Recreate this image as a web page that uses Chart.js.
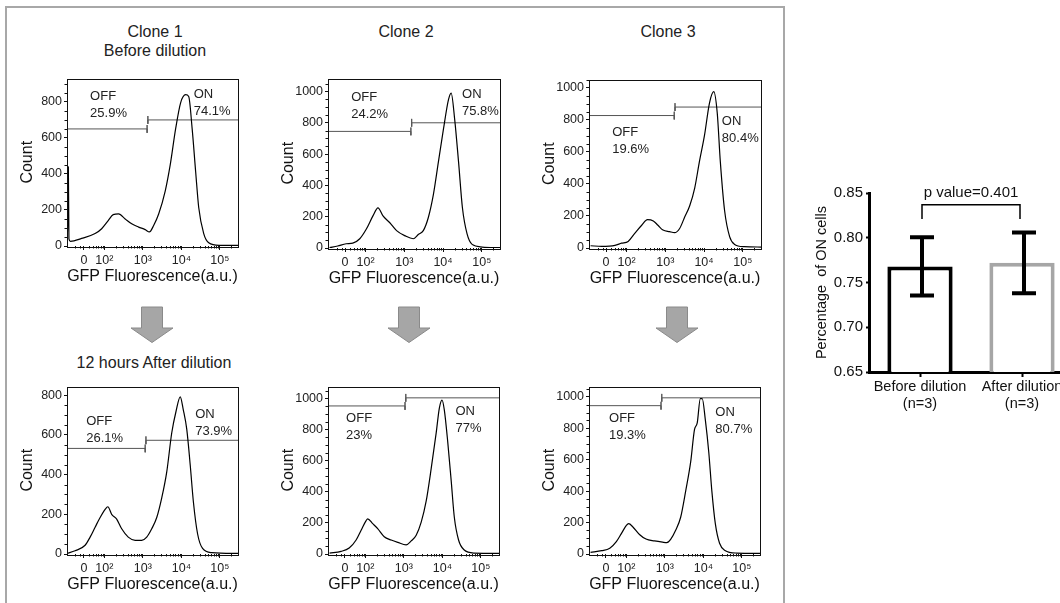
<!DOCTYPE html>
<html>
<head>
<meta charset="utf-8">
<script src="https://cdn.jsdelivr.net/npm/chart.js@4.4.0/dist/chart.umd.min.js"></script>
<style>
  body { margin: 0; width: 1060px; height: 603px; overflow: hidden; background: #fff; position: relative;
         font-family: "Liberation Sans", Arial, sans-serif; }
  .frame { position: absolute; left: 5px; top: 6px; width: 776px; height: 640px; border: 2px solid #a8a8a8; }
  .hdr { position: absolute; transform: translate(-50%, -50%); font-size: 16px; color: #222; white-space: nowrap; }
  .arw { position: absolute; }
  canvas { position: absolute; }
</style>
</head>
<body>
<div class="frame"></div>
<div class="hdr" style="left:155px;top:32px">Clone 1</div>
<div class="hdr" style="left:406px;top:32px">Clone 2</div>
<div class="hdr" style="left:668px;top:32px">Clone 3</div>
<div class="hdr" style="left:155px;top:51px">Before dilution</div>
<div class="hdr" style="left:154px;top:363px">12 hours After dilution</div>
<svg class="arw" style="left:130px;top:306px" width="44" height="38"><polygon points="11.5,1 32.5,1 32.5,22 43,22 22,36.5 1,22 11.5,22" fill="#a6a6a6" stroke="#8a8a8a"/></svg>
<svg class="arw" style="left:387px;top:306px" width="44" height="38"><polygon points="11.5,1 32.5,1 32.5,22 43,22 22,36.5 1,22 11.5,22" fill="#a6a6a6" stroke="#8a8a8a"/></svg>
<svg class="arw" style="left:655px;top:306px" width="44" height="38"><polygon points="11.5,1 32.5,1 32.5,22 43,22 22,36.5 1,22 11.5,22" fill="#a6a6a6" stroke="#8a8a8a"/></svg>

<script>
const FONT = '"Liberation Sans", Arial, sans-serif';
Chart.defaults.font.family = FONT;

// x axis is in display (biexponential) units: 10^k sits at k
const xTickPos = [1.47, 2, 3, 4, 5];
const xTickLabels = ['0', '10²', '10³', '10⁴', '10⁵'];

// histograms
const c1BeforeX = [1.03, 1.05, 1.065, 1.08, 1.12, 1.41, 1.76, 1.93, 2.10, 2.23, 2.37, 2.54, 2.71, 2.89, 3.06, 3.17, 3.28, 3.41, 3.58, 3.71, 3.85, 3.98, 4.11, 4.19, 4.28, 4.37, 4.45, 4.58, 4.71, 4.98, 5.47];
const c1BeforeCount = [20, 150, 440, 40, 26, 42, 69, 96, 141, 174, 178, 150, 123, 105, 91, 78, 114, 178, 305, 450, 650, 795, 840, 830, 650, 414, 214, 69, 18, 4, 4];

const c2BeforeX = [1.07, 1.28, 1.50, 1.67, 1.85, 2.02, 2.19, 2.32, 2.45, 2.62, 2.80, 3.01, 3.23, 3.36, 3.49, 3.62, 3.75, 3.88, 4.01, 4.14, 4.21, 4.30, 4.40, 4.50, 4.62, 4.75, 5.01, 5.47];
const c2BeforeCount = [2, 13, 27, 31, 59, 121, 205, 257, 205, 163, 111, 79, 59, 86, 111, 195, 341, 550, 759, 948, 990, 822, 550, 257, 90, 23, 6, 2];

const c3BeforeX = [1.07, 1.36, 1.70, 1.87, 2.04, 2.21, 2.39, 2.54, 2.69, 2.81, 2.94, 3.11, 3.24, 3.37, 3.50, 3.63, 3.76, 3.88, 4.01, 4.14, 4.25, 4.34, 4.42, 4.53, 4.66, 4.78, 5.04, 5.47];
const c3BeforeCount = [14, 10, 16, 30, 41, 91, 142, 177, 169, 142, 112, 102, 96, 122, 193, 264, 376, 539, 701, 905, 976, 844, 539, 234, 71, 24, 8, 6];

const c1AfterX = [1.03, 1.24, 1.50, 1.63, 1.76, 1.89, 2.02, 2.09, 2.19, 2.32, 2.45, 2.62, 2.80, 2.97, 3.10, 3.23, 3.36, 3.49, 3.62, 3.75, 3.86, 3.97, 4.05, 4.14, 4.23, 4.31, 4.42, 4.55, 4.79, 5.47];
const c1AfterCount = [3, 16, 44, 85, 135, 184, 225, 238, 200, 176, 127, 85, 69, 69, 85, 127, 184, 283, 414, 611, 718, 792, 726, 628, 447, 266, 102, 28, 7, 3];

const c2AfterX = [1.07, 1.37, 1.58, 1.76, 1.89, 2.02, 2.06, 2.19, 2.32, 2.49, 2.67, 2.84, 3.06, 3.19, 3.32, 3.45, 3.58, 3.71, 3.84, 3.92, 3.99, 4.05, 4.14, 4.23, 4.31, 4.42, 4.56, 4.83, 5.47];
const c2AfterCount = [6, 17, 38, 90, 153, 215, 226, 195, 163, 111, 90, 75, 59, 84, 121, 205, 341, 550, 780, 937, 990, 927, 718, 467, 236, 90, 27, 6, 4];

const c3AfterX = [1.07, 1.36, 1.57, 1.74, 1.87, 2.00, 2.06, 2.17, 2.34, 2.51, 2.73, 2.94, 3.05, 3.15, 3.28, 3.41, 3.54, 3.67, 3.77, 3.84, 3.92, 3.97, 4.05, 4.14, 4.22, 4.31, 4.42, 4.56, 4.86, 5.47];
const c3AfterCount = [10, 21, 37, 79, 130, 182, 193, 172, 124, 95, 83, 75, 72, 93, 151, 234, 400, 586, 793, 834, 989, 989, 855, 648, 400, 193, 68, 23, 6, 4];

// gates: split point (display units) and the drawn levels (counts)
const gateSplit = [3.11, 3.17, 3.23, 3.06, 3.03, 2.90];
const gateOffLevel = [650, 745, 827, 532, 952, 944];
const gateOnLevel = [700, 800, 880, 573, 1004, 994];
const offPercent = ['25.9%', '24.2%', '19.6%', '26.1%', '23%', '19.3%'];
const onPercent = ['74.1%', '75.8%', '80.4%', '73.9%', '77%', '80.7%'];

// summary bar chart
const barLabels = [['Before dilution', '(n=3)'], ['After dilution', '(n=3)']];
const onMean = [0.768, 0.772];
const onSd = [0.0325, 0.034];
const pValueText = 'p value=0.401';

const X_MIN = 1.03, X_MAX = 5.47;
const Y_W = 62, X_H = 42, PAD_T = 6, PAD_R = 10;

// plot boxes [left, top, right, bottom] and where the OFF/ON labels sit
const panels = [
  { x: c1BeforeX, y: c1BeforeCount, box: [67, 75, 238, 246], yMax: 930, yTop: 800, offAt: [1.63, 830], onAt: [4.32, 839] },
  { x: c2BeforeX, y: c2BeforeCount, box: [328, 75, 500, 248], yMax: 1083, yTop: 1000, offAt: [1.63, 962], onAt: [4.49, 979] },
  { x: c3BeforeX, y: c3BeforeCount, box: [589, 76, 761, 248], yMax: 1052, yTop: 1000, offAt: [1.63, 721], onAt: [4.46, 793] },
  { x: c1AfterX, y: c1AfterCount, box: [67, 383, 238, 554], yMax: 844, yTop: 800, offAt: [1.53, 669], onAt: [4.36, 705] },
  { x: c2AfterX, y: c2AfterCount, box: [328, 383, 499, 554], yMax: 1077, yTop: 1000, offAt: [1.50, 874], onAt: [4.34, 917] },
  { x: c3AfterX, y: c3AfterCount, box: [589, 383, 760, 554], yMax: 1066, yTop: 1000, offAt: [1.55, 865], onAt: [4.31, 902] }
];

// minor tick spots on the x axis
const xMinor = [1.25, 1.38];
for (let k = 4; k <= 9; k++) xMinor.push(1 + Math.log10(k));
for (let d = 2; d <= 4; d++) for (let k = 2; k <= 9; k++) xMinor.push(d + Math.log10(k));
xMinor.push(5 + Math.log10(2));

const histDeco = {
  id: 'histDeco',
  afterDraw(chart, args, o) {
    const { ctx, chartArea: a, scales: { x, y } } = chart;
    ctx.save();
    ctx.strokeStyle = '#111';
    ctx.lineWidth = 1;
    ctx.strokeRect(Math.round(a.left) + 0.5, Math.round(a.top) + 0.5, Math.round(a.right - a.left), Math.round(a.bottom - a.top));
    ctx.beginPath();
    xMinor.forEach(v => {
      const px = Math.round(x.getPixelForValue(v)) + 0.5;
      ctx.moveTo(px, a.bottom); ctx.lineTo(px, a.bottom + 2.5);
    });
    for (let v = 50; v < y.max; v += 50) {
      if (v % 200 === 0) continue;
      const py = Math.round(y.getPixelForValue(v)) + 0.5;
      ctx.moveTo(a.left, py); ctx.lineTo(a.left - 2.5, py);
    }
    ctx.stroke();

    ctx.font = '13px ' + FONT;
    ctx.fillStyle = '#222';
    ctx.textAlign = 'left';
    ctx.textBaseline = 'middle';
    const p = o.panel, i = o.index;
    let px = x.getPixelForValue(p.offAt[0]), py = y.getPixelForValue(p.offAt[1]);
    ctx.fillText('OFF', px, py);
    ctx.fillText(offPercent[i], px, py + 17);
    px = x.getPixelForValue(p.onAt[0]); py = y.getPixelForValue(p.onAt[1]);
    ctx.fillText('ON', px, py);
    ctx.fillText(onPercent[i], px, py + 17);
    ctx.restore();
  }
};

panels.forEach((p, i) => {
  const [l, t, r, b] = p.box;
  const W = r - l + Y_W + PAD_R, H = b - t + PAD_T + X_H;
  const cv = document.createElement('canvas');
  cv.width = W; cv.height = H;
  cv.style.left = (l - Y_W) + 'px';
  cv.style.top = (t - PAD_T) + 'px';
  document.body.appendChild(cv);

  const d = 4 * p.yMax / (b - t);   // half height of a gate end bar, in counts
  const s = gateSplit[i];
  const gate = (pts) => ({ data: pts, showLine: true, borderColor: '#555', borderWidth: 1, pointRadius: 0 });

  new Chart(cv, {
    type: 'scatter',
    data: {
      datasets: [
        { data: p.x.map((v, k) => ({ x: v, y: p.y[k] })), showLine: true, borderColor: '#000', borderWidth: 1.2,
          pointRadius: 0, cubicInterpolationMode: 'monotone' },
        gate([{ x: X_MIN, y: gateOffLevel[i] }, { x: s, y: gateOffLevel[i] }, { x: s, y: gateOffLevel[i] + d }, { x: s, y: gateOffLevel[i] - d }]),
        gate([{ x: X_MAX, y: gateOnLevel[i] }, { x: s + 0.02, y: gateOnLevel[i] }, { x: s + 0.02, y: gateOnLevel[i] + d }, { x: s + 0.02, y: gateOnLevel[i] - d }])
      ]
    },
    options: {
      responsive: false,
      animation: false,
      events: [],
      layout: { padding: { top: PAD_T, right: PAD_R, left: 0, bottom: 0 } },
      plugins: { legend: { display: false }, tooltip: { enabled: false }, histDeco: { panel: p, index: i } },
      scales: {
        x: {
          type: 'linear', min: X_MIN, max: X_MAX,
          afterBuildTicks: sc => { sc.ticks = xTickPos.map(v => ({ value: v })); },
          ticks: { callback: v => xTickLabels[xTickPos.indexOf(v)], font: { size: 12.5 }, color: '#222', padding: 3.5, maxRotation: 0, autoSkip: false },
          grid: { drawOnChartArea: false, tickLength: 4, tickColor: '#111' },
          border: { display: false },
          title: { display: true, text: 'GFP Fluorescence(a.u.)', font: { size: 16 }, color: '#111', padding: { top: 0, bottom: 2 } },
          afterFit: sc => { sc.height = X_H; }
        },
        y: {
          min: 0, max: p.yMax,
          afterBuildTicks: sc => { const t = []; for (let v = 0; v <= p.yTop; v += 200) t.push({ value: v }); sc.ticks = t; },
          ticks: { callback: v => String(v), font: { size: 12.5 }, color: '#222', padding: 2 },
          grid: { drawOnChartArea: false, tickLength: 3, tickColor: '#111' },
          border: { display: false },
          title: { display: true, text: 'Count', font: { size: 16 }, color: '#111', padding: { top: 13, bottom: 0 } },
          afterFit: sc => { sc.width = Y_W; }
        }
      }
    },
    plugins: [histDeco]
  });
});

// bar chart with error bars and the p value bracket
const barDeco = {
  id: 'barDeco',
  afterDatasetsDraw(chart) {
    const { ctx, scales: { x, y } } = chart;
    ctx.save();
    ctx.strokeStyle = '#000';
    ctx.lineWidth = 4;
    onMean.forEach((m, i) => {
      const cx = x.getPixelForValue(i) + 2;
      const top = y.getPixelForValue(m + onSd[i]), bot = y.getPixelForValue(m - onSd[i]);
      ctx.beginPath();
      ctx.moveTo(cx, top); ctx.lineTo(cx, bot);
      ctx.moveTo(cx - 12, top); ctx.lineTo(cx + 12, top);
      ctx.moveTo(cx - 12, bot); ctx.lineTo(cx + 12, bot);
      ctx.stroke();
    });
    const x0 = x.getPixelForValue(0) + 2, x1 = x.getPixelForValue(1) - 2;
    const yb = y.getPixelForValue(0.837), yl = y.getPixelForValue(0.821);
    ctx.lineWidth = 1.5;
    ctx.beginPath();
    ctx.moveTo(x0, yl); ctx.lineTo(x0, yb); ctx.lineTo(x1, yb); ctx.lineTo(x1, yl);
    ctx.stroke();
    ctx.font = '15px ' + FONT;
    ctx.fillStyle = '#111';
    ctx.textAlign = 'center';
    ctx.textBaseline = 'middle';
    ctx.fillText(pValueText, (x0 + x1) / 2, y.getPixelForValue(0.8505));
    ctx.restore();
  }
};

const bcv = document.createElement('canvas');
bcv.width = 283; bcv.height = 233;
bcv.style.left = '790px';
bcv.style.top = '181px';
document.body.appendChild(bcv);

new Chart(bcv, {
  type: 'bar',
  data: {
    labels: barLabels,
    datasets: [{
      data: onMean,
      backgroundColor: '#fff',
      borderColor: ['#000', '#a6a6a6'],
      borderWidth: 4,
      barPercentage: 0.64,
      categoryPercentage: 1
    }]
  },
  options: {
    responsive: false,
    animation: false,
    events: [],
    layout: { padding: { top: 12, right: 0, left: 0, bottom: 0 } },
    plugins: { legend: { display: false }, tooltip: { enabled: false } },
    scales: {
      x: {
        grid: { drawOnChartArea: false, offset: false, tickLength: 5, tickWidth: 2, tickColor: '#000' },
        border: { color: '#000', width: 3 },
        ticks: { font: { size: 14.5, lineHeight: 1.15 }, color: '#111', padding: 2, maxRotation: 0, autoSkip: false },
        afterFit: sc => { sc.height = 42; }
      },
      y: {
        min: 0.65, max: 0.85,
        ticks: { stepSize: 0.05, callback: v => v.toFixed(2), font: { size: 15 }, color: '#111', padding: 3 },
        grid: { drawOnChartArea: false, tickLength: 3, tickWidth: 2, tickColor: '#000' },
        border: { color: '#000', width: 3 },
        title: { display: true, text: 'Percentage  of ON cells', font: { size: 14.5 }, color: '#111', padding: { top: 23, bottom: 0 } },
        afterFit: sc => { sc.width = 79; }
      }
    }
  },
  plugins: [barDeco]
});
</script>
</body>
</html>
